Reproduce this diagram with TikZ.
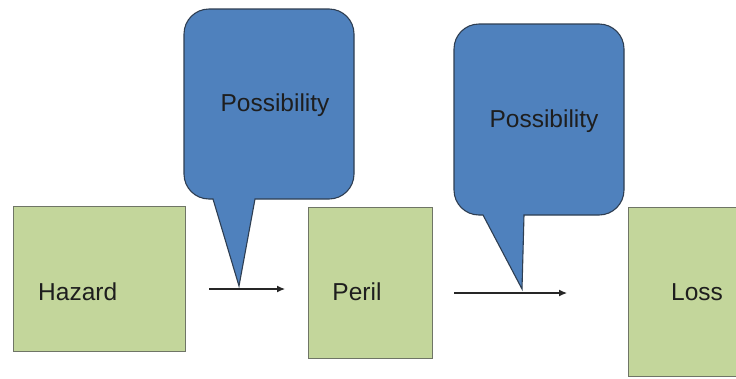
\documentclass[tikz,border=0pt]{standalone}
\usepackage{fontspec}
\setmainfont{Liberation Sans}
\usetikzlibrary{arrows.meta}
\definecolor{boxgreen}{HTML}{C3D69B}
\definecolor{boxline}{HTML}{6F7566}
\definecolor{calloutblue}{HTML}{4F81BD}
\definecolor{calloutline}{HTML}{2E3E52}
\definecolor{inktext}{HTML}{1E1E1E}
\tikzset{
  stagebox/.style={draw=boxline, line width=1.2pt, fill=boxgreen, anchor=north west, inner sep=0pt},
  label text/.style={text=inktext, font=\fontsize{24.5}{28}\selectfont, inner sep=0pt},
  bubble/.style={draw=calloutline, line width=1.1pt, fill=calloutblue, line join=miter},
  flow/.style={draw=black!85, line width=1.2pt, -{Latex[length=8pt,width=7pt]}}
}
\begin{document}
\begin{tikzpicture}[x=1pt,y=-1pt]
\useasboundingbox (0,0) rectangle (736,378);

% stage boxes
\node[stagebox, minimum width=172pt, minimum height=145pt] (hazard) at (13,206) {};
\node[stagebox, minimum width=124pt, minimum height=151pt] (peril) at (308,207) {};
\node[stagebox, minimum width=112pt, minimum height=169pt] (loss) at (628,207) {};

\node[label text, anchor=west] (hazardtxt) at (38,292) {Hazard};
\node[label text] (periltxt) at (357,292) {Peril};
\node[label text] (losstxt) at (697,292) {Loss};

% first speech bubble, pointer down to the first arrow
\draw[bubble] (213,199) -- (239,286) -- (255,199) -- (329,199)
  .. controls (342.8,199) and (354,187.8) .. (354,174) -- (354,34)
  .. controls (354,20.2) and (342.8,9) .. (329,9) -- (209,9)
  .. controls (195.2,9) and (184,20.2) .. (184,34) -- (184,174)
  .. controls (184,187.8) and (195.2,199) .. (209,199) -- cycle;
\node[label text] (poss1) at (275,105) {Possibility};

% second speech bubble
\draw[bubble] (483,215) -- (522,289) -- (524,215) -- (599,215)
  .. controls (612.8,215) and (624,203.8) .. (624,190) -- (624,49)
  .. controls (624,35.2) and (612.8,24) .. (599,24) -- (479,24)
  .. controls (465.2,24) and (454,35.2) .. (454,49) -- (454,190)
  .. controls (454,203.8) and (465.2,215) .. (479,215) -- cycle;
\node[label text] (poss2) at (544,121) {Possibility};

% arrows between the stages
\coordinate (a1s) at (209,289);
\coordinate (a1e) at (285,289);
\coordinate (a2s) at (454,293);
\coordinate (a2e) at (567,293);
\draw[flow] (a1s) -- (a1e);
\draw[flow] (a2s) -- (a2e);
\end{tikzpicture}
\end{document}
